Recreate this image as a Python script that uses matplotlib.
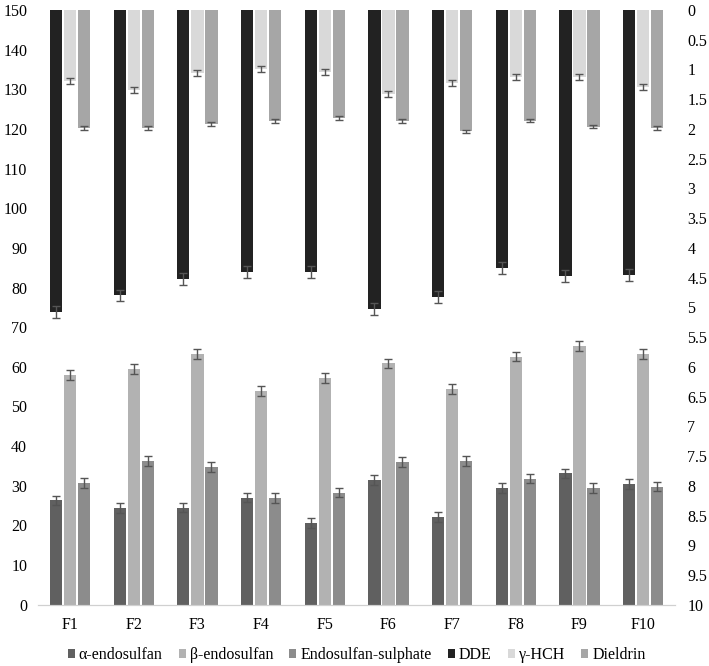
import numpy as np
import matplotlib
matplotlib.use("Agg")
import matplotlib.pyplot as plt
from matplotlib.ticker import FuncFormatter

plt.rcParams['font.family'] = ['Liberation Serif', 'DejaVu Serif']
plt.rcParams['font.size'] = 11.5

sites = ["F1", "F2", "F3", "F4", "F5", "F6", "F7", "F8", "F9", "F10"]

# left axis series (bars rising from 0)
alpha_endo = [26.3, 24.4, 24.5, 27.0, 20.6, 31.4, 22.1, 29.4, 33.1, 30.4]
beta_endo = [58.0, 59.4, 63.3, 53.9, 57.2, 60.9, 54.4, 62.6, 65.2, 63.2]
endo_sulph = [30.7, 36.3, 34.8, 26.9, 28.3, 36.0, 36.2, 31.8, 29.4, 29.8]
bottom_err = 1.2

# right axis series (inverted axis, bars hanging from top)
dde = [5.08, 4.80, 4.52, 4.40, 4.41, 5.03, 4.83, 4.34, 4.48, 4.45]
hch = [1.20, 1.34, 1.06, 1.00, 1.04, 1.42, 1.22, 1.12, 1.12, 1.30]
dieldrin = [1.98, 1.98, 1.92, 1.87, 1.82, 1.87, 2.04, 1.86, 1.96, 1.98]
dde_err = 0.1
hch_err = 0.05
diel_err = 0.03

x = np.arange(len(sites))
w = 0.19
off = 0.22
err_kw = dict(ecolor='#555555', elinewidth=1, capsize=3, capthick=1)

fig = plt.figure(figsize=(7.09, 6.66), dpi=100)
ax = fig.add_axes([0.054, 0.092, 0.898, 0.893])
ax2 = ax.twinx()

b1 = ax.bar(x - off, alpha_endo, w, color='#606060', yerr=bottom_err, error_kw=err_kw, label='α-endosulfan')
b2 = ax.bar(x, beta_endo, w, color='#b2b2b2', yerr=bottom_err, error_kw=err_kw, label='β-endosulfan')
b3 = ax.bar(x + off, endo_sulph, w, color='#8c8c8c', yerr=bottom_err, error_kw=err_kw, label='Endosulfan-sulphate')

b4 = ax2.bar(x - off, dde, w, color='#222222', yerr=dde_err, error_kw=err_kw, label='DDE')
b5 = ax2.bar(x, hch, w, color='#d9d9d9', yerr=hch_err, error_kw=err_kw, label='γ-HCH')
b6 = ax2.bar(x + off, dieldrin, w, color='#a6a6a6', yerr=diel_err, error_kw=err_kw, label='Dieldrin')

ax.set_xlim(-0.5, len(sites) - 0.5)
ax.set_ylim(0, 150)
ax.set_yticks(np.arange(0, 151, 10))
ax2.set_ylim(10, 0)
ax2.set_yticks(np.arange(0, 10.01, 0.5))
ax2.yaxis.set_major_formatter(FuncFormatter(lambda v, p: '%g' % v))

ax.set_xticks(x)
ax.set_xticklabels(sites)

for a in (ax, ax2):
    for s in ['top', 'left', 'right']:
        a.spines[s].set_visible(False)
    a.spines['bottom'].set_color('#d0d0d0')
    a.tick_params(length=0)
ax.tick_params(axis='y', pad=8)
ax.tick_params(axis='x', pad=9)
ax2.tick_params(axis='y', pad=9)

handles = [b1, b2, b3, b4, b5, b6]
fig.legend(handles, [h.get_label() for h in handles], loc='center', bbox_to_anchor=(0.503, 0.0165),
           ncol=6, frameon=False, handlelength=0.45, handleheight=0.45, handletextpad=0.25,
           columnspacing=1.0, fontsize=11.5, borderpad=0)

fig.savefig("out.png", dpi=100)
